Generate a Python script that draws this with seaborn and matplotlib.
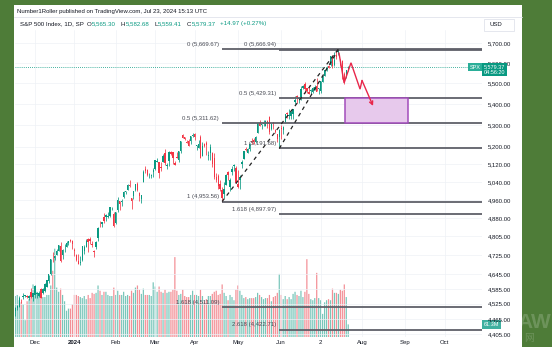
import matplotlib
matplotlib.use("Agg")
import matplotlib.pyplot as plt
import seaborn as sns
import numpy as np
import pandas as pd
from matplotlib.patches import Rectangle
from matplotlib.ticker import FixedLocator, NullLocator

# ---------------- data ----------------
dates = ["Nov16","Nov17","Nov20","Nov21","Nov22","Nov24","Nov27","Nov28","Nov29","Nov30",
         "Dec1","Dec4","Dec5","Dec6","Dec7","Dec8","Dec11","Dec12","Dec13","Dec14","Dec15",
         "Dec18","Dec19","Dec20","Dec21","Dec22","Dec26","Dec27","Dec28","Dec29",
         "Jan2","Jan3","Jan4","Jan5","Jan8","Jan9","Jan10","Jan11","Jan12","Jan16","Jan17",
         "Jan18","Jan19","Jan22","Jan23","Jan24","Jan25","Jan26","Jan29","Jan30","Jan31",
         "Feb1","Feb2","Feb5","Feb6","Feb7","Feb8","Feb9","Feb12","Feb13","Feb14","Feb15",
         "Feb16","Feb20","Feb21","Feb22","Feb23","Feb26","Feb27","Feb28","Feb29",
         "Mar1","Mar4","Mar5","Mar6","Mar7","Mar8","Mar11","Mar12","Mar13","Mar14","Mar15",
         "Mar18","Mar19","Mar20","Mar21","Mar22","Mar25","Mar26","Mar27","Mar28",
         "Apr1","Apr2","Apr3","Apr4","Apr5","Apr8","Apr9","Apr10","Apr11","Apr12","Apr15",
         "Apr16","Apr17","Apr18","Apr19","Apr22","Apr23","Apr24","Apr25","Apr26","Apr29","Apr30",
         "May1","May2","May3","May6","May7","May8","May9","May10","May13","May14","May15",
         "May16","May17","May20","May21","May22","May23","May24","May28","May29","May30","May31",
         "Jun3","Jun4","Jun5","Jun6","Jun7","Jun10","Jun11","Jun12","Jun13","Jun14","Jun17",
         "Jun18","Jun20","Jun21","Jun24","Jun25","Jun26","Jun27","Jun28",
         "Jul1","Jul2","Jul3","Jul5","Jul8","Jul9","Jul10","Jul11","Jul12","Jul15","Jul16",
         "Jul17","Jul18","Jul19","Jul22","Jul23"]

opens = [4497,4509,4511,4539,4553,4555,4555,4546,4571,4554,
         4559,4564,4557,4586,4568,4577,4593,4618,4647,4721,4714,
         4725,4743,4764,4725,4753,4759,4773,4786,4782,
         4745,4726,4698,4690,4703,4741,4760,4792,4791,4772,4740,
         4760,4797,4853,4856,4888,4886,4888,4892,4925,4900,
         4861,4916,4957,4951,4973,4996,5005,5026,4968,4976,5004,
         5031,4990,4963,5039,5100,5093,5074,5067,5085,
         5098,5131,5131,5109,5132,5173,5112,5134,5174,5175,5124,
         5154,5139,5181,5254,5243,5219,5228,5227,5248,
         5258,5204,5194,5245,5159,5212,5218,5158,5172,5171,5150,
         5064,5068,5032,5006,4988,5028,5084,5019,5084,5114,5103,
         5029,5050,5122,5142,5188,5173,5189,5226,5233,5222,5264,
         5310,5303,5305,5298,5320,5340,5282,5316,5278,5259,5244,
         5284,5278,5314,5357,5343,5341,5353,5409,5441,5424,5431,
         5476,5499,5478,5459,5461,5460,5473,5488,
         5471,5461,5507,5537,5572,5584,5591,5636,5590,5638,5644,
         5610,5609,5544,5537,5565.30]
highs = [4511,4521,4557,4542,4568,4560,4562,4562,4587,4569,
         4599,4574,4578,4590,4590,4609,4623,4643,4709,4739,4725,
         4749,4768,4778,4748,4772,4784,4785,4793,4789,
         4755,4729,4727,4721,4764,4765,4791,4798,4802,4783,4744,
         4783,4842,4868,4866,4903,4898,4906,4929,4931,4906,
         4906,4975,4958,4965,5000,5000,5031,5049,4971,5002,5032,
         5039,4994,4983,5094,5111,5097,5080,5077,5104,
         5140,5149,5132,5128,5165,5189,5125,5179,5180,5176,5136,
         5175,5180,5224,5261,5246,5230,5236,5249,5264,
         5263,5208,5229,5256,5222,5219,5225,5179,5211,5175,5169,
         5079,5077,5047,5019,5038,5076,5089,5058,5114,5123,5110,
         5096,5073,5139,5181,5200,5192,5215,5240,5238,5250,5311,
         5325,5306,5325,5324,5323,5341,5311,5316,5282,5260,5280,
         5302,5298,5354,5362,5376,5365,5376,5441,5442,5432,5488,
         5490,5506,5478,5490,5472,5483,5491,5524,
         5479,5510,5539,5571,5583,5590,5636,5642,5655,5667,5669.67,
         5622,5614,5555,5565,5582.68]
lows = [4478,4500,4511,4526,4545,4552,4546,4541,4547,4537,
        4547,4546,4551,4546,4565,4574,4593,4608,4643,4694,4704,
        4725,4743,4697,4708,4737,4758,4768,4780,4751,
        4722,4700,4687,4682,4700,4730,4757,4739,4769,4756,4715,
        4748,4785,4845,4844,4862,4869,4881,4887,4916,4845,
        4854,4907,4918,4935,4970,4987,5004,5016,4920,4964,4999,
        4999,4954,4946,5038,5081,5068,5057,5058,5062,
        5094,5128,5057,5091,5132,5117,5100,5114,5161,5123,5117,
        5150,5131,5169,5240,5229,5216,5203,5214,5245,
        5229,5184,5194,5146,5157,5198,5160,5138,5139,5107,5052,
        5039,5007,4999,4953.56,4969,5028,5047,5001,5073,5089,5035,
        5013,5011,5101,5142,5179,5169,5180,5211,5211,5218,5263,
        5296,5284,5298,5298,5287,5257,5278,5280,5262,5222,5191.68,
        5234,5257,5311,5336,5331,5331,5327,5402,5404,5404,5421,
        5471,5455,5452,5448,5446,5452,5469,5461,
        5446,5451,5507,5536,5562,5574,5587,5576,5583,5619,5640,
        5584,5522,5497,5527,5559.41]
closes = [4508,4514,4547,4538,4556,4559,4551,4555,4551,4568,
          4595,4569,4567,4549,4585,4604,4622,4644,4707,4720,4719,
          4741,4768,4698,4747,4755,4775,4782,4783,4770,
          4743,4705,4689,4697,4764,4757,4783,4780,4784,4766,4739,
          4780,4840,4850,4865,4869,4894,4891,4928,4925,4846,
          4906,4959,4943,4954,4995,4998,5027,5022,4954,5001,5030,
          5006,4976,4982,5087,5089,5070,5078,5070,5096,
          5137,5131,5079,5105,5157,5124,5117,5175,5165,5150,5117,
          5149,5179,5224,5241,5234,5218,5204,5248,5254,
          5243,5205,5211,5147,5204,5202,5209,5161,5199,5123,5061,
          5051,5022,5011,4967,5010,5071,5071,5048,5100,5116,5036,
          5018,5064,5128,5181,5187,5188,5214,5223,5221,5247,5308,
          5297,5303,5308,5321,5307,5268,5305,5306,5267,5235,5278,
          5283,5291,5354,5353,5347,5361,5375,5421,5434,5431,5473,
          5487,5473,5465,5448,5469,5478,5483,5460,
          5475,5509,5537,5567,5572,5577,5633,5585,5615,5631,5667,
          5588,5545,5505,5564,5579.37]
volumes = [3.9,4.0,3.5,3.3,3.1,1.6,3.4,3.6,3.8,5.0,
           4.3,4.3,4.0,3.9,3.8,3.8,4.0,4.0,4.9,6.3,8.4,
           4.7,4.3,4.6,4.0,3.4,2.5,2.7,2.7,3.1,
           4.0,4.0,3.9,3.8,3.7,3.9,3.6,4.0,3.7,4.2,4.1,
           4.2,4.9,4.4,4.0,4.3,4.3,4.0,3.9,3.9,4.7,
           4.0,4.4,4.0,4.0,4.3,3.9,4.0,3.9,4.4,4.2,4.7,
           4.9,4.5,4.1,4.6,4.0,4.0,4.0,3.9,5.2,
           4.8,4.3,4.8,4.3,4.2,4.5,4.2,4.3,4.3,4.5,7.6,
           4.4,4.0,4.1,4.5,3.9,3.8,3.8,4.0,4.4,
           4.0,4.0,3.9,4.5,3.9,3.4,3.6,3.9,3.9,4.1,4.3,
           4.4,4.0,4.1,5.0,4.2,3.9,3.5,4.0,3.8,3.5,4.5,
           4.9,4.4,4.0,3.7,3.8,3.6,3.7,3.7,3.7,3.8,4.2,
           4.0,3.8,3.6,3.7,3.7,4.0,3.4,3.8,3.9,4.2,6.0,
           4.0,3.6,3.9,3.6,3.8,3.6,4.1,4.3,4.0,3.9,4.4,
           3.8,4.3,7.4,4.1,3.6,3.5,3.7,6.1,
           3.7,3.5,2.2,3.3,3.5,3.6,3.5,4.6,4.2,4.2,4.1,
           4.5,4.4,5.0,3.8,1.2]

price_ticks = [5700, 5600, 5500, 5400, 5300, 5200, 5120, 5040, 4960, 4880,
               4805, 4725, 4645, 4585, 4525, 4465, 4405]
date_tick_pos = [10, 30, 51, 71, 91, 113, 135, 155, 176, 198, 218]
date_tick_labels = ["Dec", "2024", "Feb", "Mar", "Apr", "May", "Jun", "2", "Aug", "Sep", "Oct"]

fibA_start = 105
fibA_levels = [0, 0.5, 1, 1.618]
fibA_prices = [5669.67, 5311.62, 4953.56, 4511.09]
fibB_start = 134
fibB_levels = [0, 0.5, 1, 1.618, 2.618]
fibB_prices = [5666.94, 5429.31, 5191.68, 4897.97, 4422.71]
peak_idx = 164

zone_x = [167.4, 199.3]
zone_y = [5311.62, 5429.31]
path_x = [164.3, 166.9, 170.4, 175.0, 176.0, 181.6]
path_y = [5650, 5502, 5601, 5472, 5514, 5391]

last_price = 5579.37
last_volume_label = "61.3M"

header_title = "Number1Roller published on TradingView.com, Jul 23, 2024 15:13 UTC"
header_row = [("S&P 500 Index, 1D, SP", "dark", 2.5), ("O", "dark", 0.5), ("5,565.30", "up", 5),
              ("H", "dark", 0.5), ("5,582.68", "up", 5), ("L", "dark", 0.5), ("5,559.41", "up", 5),
              ("C", "dark", 0.5), ("5,579.37", "up", 4), ("+14.97 (+0.27%)", "up", 0)]

# ---------------- style ----------------
UP, DN = "#089981", "#f23645"
VUP, VDN = "#78c6ba", "#f38f96"
TXT = "#131722"
FIB = "#5f6069"
GREEN_BG = "#4e7c38"

sns.set_theme(style="white")
plt.rcParams['font.family'] = ['Liberation Sans', 'DejaVu Sans']

W, H = 552, 347
fig = plt.figure(figsize=(W / 100, H / 100), dpi=100, facecolor=GREEN_BG)

def fx(x):
    return x / W

def fy(y):
    return 1 - y / H

fig.patches.append(Rectangle((fx(14), 0), fx(522) - fx(14), fy(5), transform=fig.transFigure,
                             facecolor="white", edgecolor="none", zorder=-10))
fig.lines.append(plt.Line2D([fx(14), fx(522)], [fy(17), fy(17)], transform=fig.transFigure,
                            color="#e0e3eb", lw=0.6))

FS = 4.3
fig.text(fx(17), fy(11), header_title, fontsize=FS, color=TXT, va="center", ha="left")

renderer = fig.canvas.get_renderer()
xpos = 20.0
for s, kind, gap in header_row:
    t = fig.text(fx(xpos), fy(24), s, fontsize=4.4, color=(UP if kind == "up" else TXT),
                 va="center", ha="left")
    bb = t.get_window_extent(renderer=renderer)
    xpos += bb.width + gap

fig.patches.append(Rectangle((fx(484), fy(31)), fx(514) - fx(484), fy(19) - fy(31),
                             transform=fig.transFigure, facecolor="white",
                             edgecolor="#e0e3eb", lw=0.6))
fig.text(fx(489), fy(25), "USD", fontsize=FS, color=TXT, va="center", ha="left")

# watermark
fig.text(fx(517), fy(322), "AW", fontsize=15, fontweight="bold", color="white", alpha=0.18,
         va="center", ha="left")
fig.text(fx(524), fy(338), "网", fontsize=7, color="white", alpha=0.18, va="center", ha="left",
         family=["Noto Sans CJK SC", "DejaVu Sans"])

pos = [fx(15), fy(337), fx(482) - fx(15), fy(30) - fy(337)]
axv = fig.add_axes(pos, zorder=1)
ax = fig.add_axes(pos, zorder=2)
ax.patch.set_alpha(0)

idx = np.arange(len(closes))
o = np.array(opens, float); c = np.array(closes, float)
h = np.array(highs, float); l = np.array(lows, float)
up = c >= o
XMIN, XMAX = -0.15, 236.9

# volume (seaborn)
df = pd.DataFrame({"i": idx, "vol": volumes, "dir": np.where(up, "up", "down")})
sns.barplot(data=df, x="i", y="vol", hue="dir", palette={"up": VUP, "down": VDN},
            native_scale=True, dodge=False, width=0.62, saturation=1, errorbar=None,
            legend=False, ax=axv, linewidth=0)
for p in axv.patches:
    p.set_snap(False)
axv.set_xlim(XMIN, XMAX)
axv.set_ylim(0, 29.2)
axv.axis("off")
axv.annotate(last_volume_label, xy=(1, volumes[-1]), xycoords=axv.get_yaxis_transform(),
             xytext=(1.3, 0), textcoords="offset points", ha="left", va="center",
             fontsize=4.0, color="white", annotation_clip=False,
             bbox=dict(boxstyle="square,pad=0.3", fc="#3fb0a0", ec="none"))

# price axis
ax.set_yscale("log")
ax.set_ylim(4393.6, 5766)
ax.set_xlim(XMIN, XMAX)
ax.yaxis.set_major_locator(FixedLocator(price_ticks))
ax.yaxis.set_minor_locator(NullLocator())
ax.set_yticklabels([f"{v:,.2f}" for v in price_ticks])
ax.yaxis.tick_right()
ax.tick_params(axis="y", length=0, pad=4.3, labelsize=FS, labelcolor=TXT)
ax.set_xticks(date_tick_pos)
ax.set_xticklabels(date_tick_labels)
ax.tick_params(axis="x", length=0, pad=2.0, labelsize=FS, labelcolor=TXT)
ax.get_xticklabels()[1].set_fontweight("bold")
for s in ax.spines.values():
    s.set_visible(False)
ax.grid(True, color="#eef1f6", lw=0.5)
ax.set_axisbelow(True)

# candles
col = np.where(up, UP, DN)
ax.vlines(idx, l, h, colors=col, lw=0.55, zorder=3)
body = np.maximum(np.abs(c - o), 1.5)
ax.bar(idx, body, bottom=np.minimum(o, c), width=0.7, color=col, zorder=4, linewidth=0)

# current price line
ax.axhline(last_price, color=UP, lw=0.6, ls=(0, (1, 1.5)), zorder=2)

# fib levels
for lv, p in zip(fibA_levels, fibA_prices):
    ax.hlines(p, fibA_start, XMAX, color=FIB, lw=1.3, zorder=5)
    ax.annotate(f"{lv:g} ({p:,.2f})", xy=(fibA_start, p), xytext=(-2.2, 3.3),
                textcoords="offset points", ha="right", va="center", fontsize=FS, color="#4a4c55",
                zorder=6)
for lv, p in zip(fibB_levels, fibB_prices):
    ax.hlines(p, fibB_start, XMAX, color=FIB, lw=1.3, zorder=5)
    ax.annotate(f"{lv:g} ({p:,.2f})", xy=(fibB_start, p), xytext=(-2.2, 3.3),
                textcoords="offset points", ha="right", va="center", fontsize=FS, color="#4a4c55",
                zorder=6)
ax.plot([fibA_start, peak_idx], [fibA_prices[2], fibA_prices[0]], color="#222", lw=0.9,
        ls=(0, (3, 3)), zorder=5)
ax.plot([fibB_start, peak_idx], [fibB_prices[2], fibB_prices[0]], color="#222", lw=0.9,
        ls=(0, (3, 3)), zorder=5)

# target zone
ax.add_patch(Rectangle((zone_x[0], zone_y[0]), zone_x[1] - zone_x[0], zone_y[1] - zone_y[0],
                       facecolor="#e7c9ec", edgecolor="#a24dbb", lw=1.1, zorder=6))

# projected path
RED = "#e8274b"
ax.plot(path_x[:-1], path_y[:-1], color=RED, lw=1.0, zorder=7, solid_joinstyle="miter")
ax.annotate("", xy=(path_x[-1], path_y[-1]), xytext=(path_x[-2], path_y[-2]),
            arrowprops=dict(arrowstyle="->", color=RED, lw=1.0, shrinkA=0, shrinkB=0,
                            mutation_scale=6), zorder=7)

# last price labels
ax.annotate("5,579.37\n04:56:20", xy=(1, last_price), xycoords=ax.get_yaxis_transform(),
            xytext=(1.3, 1.8), textcoords="offset points", ha="left", va="top", fontsize=4.0,
            color="white", linespacing=1.0, annotation_clip=False, zorder=10,
            bbox=dict(boxstyle="square,pad=0.3", fc=UP, ec="none"))
ax.annotate("SPX", xy=(1, last_price), xycoords=ax.get_yaxis_transform(),
            xytext=(-1.3, 0), textcoords="offset points", ha="right", va="center", fontsize=4.0,
            color="white", annotation_clip=False, zorder=10,
            bbox=dict(boxstyle="square,pad=0.3", fc="#2aae98", ec="none"))

fig.savefig("out.png", dpi=100, facecolor=fig.get_facecolor())
